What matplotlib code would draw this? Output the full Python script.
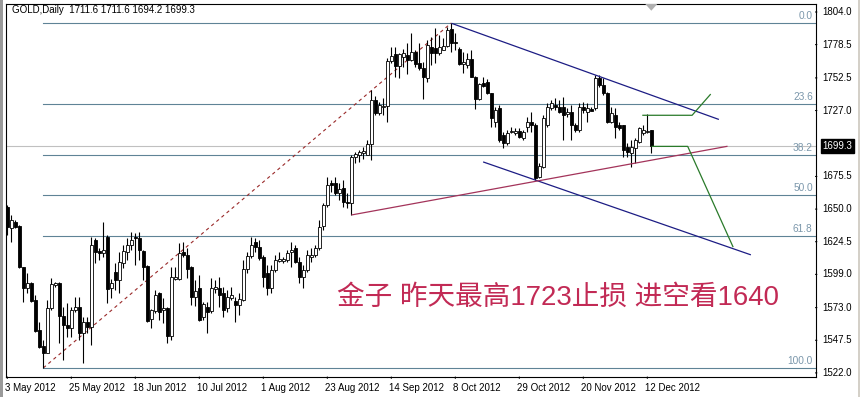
import matplotlib
matplotlib.use("Agg")
import matplotlib.pyplot as plt
from matplotlib.patches import Rectangle, Polygon

# ---------------- data ----------------
opens = [1651.9,1635.0,1640.2,1636.8,1604.5,1588.1,1592.5,1579.0,1555.6,1543.1,
         1537.3,1572.5,1590.5,1592.0,1566.5,1559.5,1556.9,1571.2,1573.3,1553.0,
         1562.1,1558.2,1625.9,1617.5,1615.5,1628.5,1588.1,1601.1,1594.6,1608.2,
         1616.8,1622.0,1628.5,1627.2,1617.5,1605.6,1563.9,1570.7,1584.2,1571.2,
         1572.5,1551.1,1595.4,1595.2,1616.8,1614.2,1604.5,1581.6,1588.6,1566.0,
         1573.8,1570.7,1587.3,1588.1,1584.2,1572.5,1580.3,1578.5,1575.1,1579.0,
         1603.0,1613.4,1624.6,1620.7,1612.3,1599.8,1588.1,1602.4,1609.5,1609.8,
         1610.2,1616.5,1619.4,1609.0,1597.2,1602.4,1612.9,1614.2,1619.4,1637.0,
         1653.2,1670.1,1670.1,1662.8,1666.2,1655.8,1654.5,1691.0,1692.3,1693.6,
         1692.3,1700.9,1735.3,1724.8,1730.0,1730.6,1766.0,1771.2,1761.8,1769.1,
         1770.4,1766.5,1773.0,1763.9,1760.0,1752.2,1776.9,1775.6,1771.7,1774.3,
         1777.4,1790.5,1780.8,1774.8,1763.4,1762.6,1767.0,1753.5,1735.8,1748.3,
         1749.6,1740.5,1718.3,1728.7,1707.9,1701.4,1710.5,1709.7,1711.3,1705.3,
         1714.4,1718.4,1715.7,1675.4,1683.2,1715.7,1728.7,1731.3,1730.0,1730.0,
         1724.3,1726.1,1715.7,1711.8,1730.0,1726.1,1728.0,1728.7,1752.2,1747.0,
         1740.5,1718.3,1723.5,1715.7,1715.7,1698.8,1693.6,1697.5,1702.7,1709.2,
         1710.5,1711.6]
highs = [1653.2,1645.4,1641.5,1637.6,1605.0,1600.4,1593.3,1582.9,1562.1,1547.8,
         1579.0,1596.0,1593.3,1593.3,1573.8,1576.4,1573.8,1581.6,1581.6,1566.0,
         1566.0,1628.5,1627.2,1619.4,1639.7,1629.8,1595.2,1607.6,1616.8,1622.0,
         1627.2,1632.4,1631.1,1632.4,1618.1,1606.3,1571.7,1586.8,1585.5,1580.3,
         1573.8,1605.0,1605.0,1623.3,1624.6,1619.4,1605.6,1594.6,1598.5,1577.7,
         1577.7,1596.0,1594.6,1597.2,1589.4,1586.8,1589.4,1581.6,1584.2,1610.2,
         1616.8,1628.5,1627.2,1625.9,1614.2,1606.3,1606.3,1614.2,1616.8,1612.9,
         1618.1,1624.6,1622.0,1612.9,1606.3,1618.1,1619.4,1622.0,1641.5,1654.5,
         1675.4,1672.8,1675.4,1670.7,1672.8,1662.3,1692.3,1694.9,1696.2,1698.8,
         1704.0,1743.1,1738.4,1733.9,1736.5,1767.8,1776.9,1776.9,1772.2,1774.8,
         1779.5,1787.3,1774.3,1779.5,1765.2,1782.1,1784.7,1791.2,1786.0,1783.4,
         1792.5,1795.4,1787.3,1776.9,1773.0,1771.7,1774.3,1754.0,1748.3,1753.0,
         1751.4,1741.0,1730.0,1731.0,1710.5,1711.8,1714.4,1713.1,1713.1,1711.8,
         1722.2,1726.1,1717.0,1685.8,1723.5,1732.6,1735.3,1736.6,1735.3,1737.9,
         1728.7,1731.3,1717.0,1732.6,1734.0,1732.6,1730.0,1754.8,1754.8,1752.2,
         1741.8,1730.0,1728.7,1718.3,1715.7,1701.4,1704.0,1705.3,1714.4,1715.7,
         1724.0,1711.6]
lows = [1629.8,1624.6,1635.0,1603.7,1577.7,1584.2,1577.7,1554.3,1541.2,1525.9,
        1537.3,1571.2,1589.4,1545.2,1532.1,1550.4,1550.4,1569.9,1547.8,1530.0,
        1553.0,1543.8,1607.6,1610.2,1612.9,1576.9,1580.3,1586.8,1584.2,1603.7,
        1610.2,1618.1,1606.3,1610.2,1594.6,1562.1,1556.9,1568.6,1563.4,1560.8,
        1545.7,1547.8,1594.6,1594.6,1612.9,1596.0,1575.1,1574.3,1562.9,1563.4,
        1553.0,1569.1,1584.7,1573.8,1566.0,1569.9,1579.0,1562.1,1567.3,1578.5,
        1599.8,1611.6,1616.8,1610.2,1589.4,1582.9,1584.2,1601.1,1609.0,1607.6,
        1609.0,1605.0,1607.6,1592.0,1588.1,1601.1,1609.0,1612.9,1618.1,1634.0,
        1651.9,1663.6,1661.0,1657.1,1651.9,1650.6,1645.4,1685.8,1687.1,1688.9,
        1692.3,1688.4,1723.5,1723.5,1723.5,1718.3,1763.9,1753.5,1752.2,1761.3,
        1755.6,1766.0,1761.3,1758.7,1735.8,1749.6,1762.6,1763.9,1770.4,1774.3,
        1776.9,1773.0,1774.3,1762.6,1756.1,1760.0,1753.0,1728.0,1735.3,1745.1,
        1740.0,1714.4,1714.4,1702.7,1697.5,1700.1,1709.2,1707.9,1705.3,1704.0,
        1710.5,1710.0,1672.8,1674.1,1681.9,1714.4,1727.4,1727.4,1724.8,1704.0,
        1722.2,1704.0,1710.5,1710.5,1724.8,1718.3,1727.4,1727.4,1745.7,1739.2,
        1717.0,1717.0,1705.3,1711.8,1691.0,1691.0,1683.2,1685.8,1701.4,1707.9,
        1709.2,1694.2]
closes = [1636.3,1641.5,1636.3,1604.5,1588.1,1592.0,1578.5,1555.0,1542.5,1537.9,
          1572.5,1591.2,1592.0,1566.5,1559.5,1556.9,1571.2,1573.8,1553.0,1562.1,
          1558.2,1622.0,1616.8,1615.5,1618.1,1587.3,1592.0,1594.6,1609.0,1617.5,
          1622.0,1625.9,1627.2,1618.1,1604.5,1562.9,1571.2,1582.9,1569.9,1572.5,
          1551.1,1596.7,1597.2,1616.0,1614.2,1603.0,1581.6,1586.0,1563.4,1575.9,
          1569.9,1588.1,1589.4,1582.9,1571.2,1581.6,1582.9,1575.1,1579.5,1603.0,
          1613.4,1622.0,1620.7,1611.6,1597.2,1588.1,1602.4,1610.2,1610.8,1610.8,
          1616.0,1618.1,1609.0,1597.2,1602.4,1614.2,1614.2,1619.4,1636.3,1653.0,
          1668.8,1668.8,1662.3,1665.5,1655.8,1654.5,1691.0,1693.1,1694.9,1695.6,
          1700.9,1735.3,1724.8,1731.3,1730.6,1766.0,1769.6,1761.8,1771.2,1771.7,
          1766.5,1773.0,1763.4,1760.0,1753.5,1778.2,1771.7,1771.7,1776.9,1777.4,
          1789.9,1780.0,1779.5,1763.4,1765.2,1767.0,1753.0,1735.8,1747.8,1746.2,
          1740.5,1720.9,1727.4,1704.0,1701.4,1709.2,1711.3,1711.3,1706.1,1710.5,
          1718.4,1716.0,1674.1,1683.7,1720.9,1730.0,1732.6,1730.0,1726.1,1723.5,
          1726.1,1715.7,1711.8,1730.0,1727.4,1728.7,1727.0,1752.2,1747.0,1740.5,
          1718.3,1724.8,1714.4,1713.1,1696.2,1694.9,1698.8,1704.0,1713.1,1711.8,
          1711.3,1699.3]

date_labels = ["3 May 2012", "25 May 2012", "18 Jun 2012", "10 Jul 2012", "1 Aug 2012",
               "23 Aug 2012", "14 Sep 2012", "8 Oct 2012", "29 Oct 2012", "20 Nov 2012",
               "12 Dec 2012"]
date_label_bars = [0, 16, 32, 48, 64, 80, 96, 112, 128, 144, 160]
price_ticks = [1804.0, 1778.5, 1752.5, 1727.0, 1675.5, 1650.0, 1624.5, 1599.0, 1573.0, 1547.5, 1522.0]

fib_low = 1525.9      # bar 9
fib_high = 1795.4     # bar 111
fib_low_bar = 9
fib_high_bar = 111
fib_levels = [0.0, 23.6, 38.2, 50.0, 61.8, 100.0]

title_text = "GOLD,Daily  1711.6 1711.6 1694.2 1699.3"
last_price = 1699.3
note_text = "金子 昨天最高1723止损 进空看1640"

# trendlines (bar index, price)
upper_channel = ([111.2, 177.75], [1795.0, 1720.2])
lower_channel = ([119.1, 185.75], [1686.7, 1614.4])
support_line = ([86.2, 179.9], [1645.5, 1699.0])
green_up = ([158.9, 171.2, 175.75], [1723.3, 1723.3, 1739.5])
green_down = ([161.2, 170.1, 181.4], [1699.0, 1699.0, 1620.7])

# ---------------- figure ----------------
W, H = 860, 397
fig = plt.figure(figsize=(W / 100, H / 100), dpi=100)
fig.patch.set_facecolor("white")
ax = fig.add_axes([6 / W, 20 / H, (815.5 - 6) / W, (377 - 4) / H])
ax.set_xlim(-0.325, 202.05)
ax.set_ylim(1518.8, 1810.25)
for s in ax.spines.values():
    s.set_color("black")
    s.set_linewidth(0.8)
ax.set_xticks([])
ax.set_yticks([])

small_font = dict(family="Liberation Sans", fontsize=7)

# current price grey line
ax.axhline(last_price, color="#c0c0c0", lw=0.8, zorder=1)

# fibonacci levels
fib_col = "#5f8396"
for lv in fib_levels:
    p = fib_high - (fib_high - fib_low) * lv / 100.0
    ax.plot([fib_low_bar, 202.05], [p, p], color=fib_col, lw=0.8, zorder=1)
    ax.annotate(f"{lv:.1f}", xy=(1.0, p), xycoords=("axes fraction", "data"),
                xytext=(-2, 1.5), textcoords="offset points", ha="right", va="bottom",
                color="#7b97ab", family="Liberation Sans", fontsize=7.3)

# dashed fib trend line
ax.plot([fib_low_bar, fib_high_bar], [fib_low, fib_high], color="#9a2a2a", lw=0.8,
        dashes=(3, 3), zorder=2)

# candles
x = list(range(len(opens)))
ax.vlines(x, lows, highs, color="black", lw=0.8, zorder=3)
for i, (o, c) in enumerate(zip(opens, closes)):
    bottom = min(o, c)
    hgt = max(abs(c - o), 0.35)
    fc = "white" if c >= o else "black"
    ax.add_patch(Rectangle((i - 0.36, bottom), 0.72, hgt, facecolor=fc,
                           edgecolor="black", lw=0.6, zorder=4))

# trend lines
ax.plot(*upper_channel, color="#1c1c84", lw=0.9, zorder=5)
ax.plot(*lower_channel, color="#1c1c84", lw=0.9, zorder=5)
ax.plot(*support_line, color="#a3335a", lw=0.9, zorder=5)
ax.plot(*green_up, color="#2a7a2a", lw=0.9, zorder=5)
ax.plot(*green_down, color="#2a7a2a", lw=0.9, zorder=5)

# chart shift marker
ax.add_patch(Polygon([[159.5, 1810.25], [162.5, 1810.25], [161, 1805.0]], closed=True,
                     facecolor="#b0b0b0", edgecolor="none", zorder=6))

# right price axis
for p in price_ticks:
    ax.annotate("", xy=(1.0, p), xycoords=("axes fraction", "data"),
                xytext=(3, 0), textcoords="offset points",
                arrowprops=dict(arrowstyle="-", color="black", lw=0.8))
    ax.annotate(f"{p:.1f}", xy=(1.0, p), xycoords=("axes fraction", "data"),
                xytext=(5, 0), textcoords="offset points", ha="left", va="center",
                color="black", annotation_clip=False, **small_font)
ax.annotate(f"{last_price:.1f}", xy=(1.0, last_price), xycoords=("axes fraction", "data"),
            xytext=(5, 0), textcoords="offset points", ha="left", va="center",
            color="white", annotation_clip=False,
            bbox=dict(boxstyle="square,pad=0.2", facecolor="black", edgecolor="black"),
            **small_font)

# date axis
for b, lab in zip(date_label_bars, date_labels):
    ax.annotate("", xy=(b, 0.0), xycoords=("data", "axes fraction"),
                xytext=(0, -3), textcoords="offset points",
                arrowprops=dict(arrowstyle="-", color="black", lw=0.8))
    ax.annotate(lab, xy=(b, 0.0), xycoords=("data", "axes fraction"),
                xytext=(-1.5, -8), textcoords="offset points", ha="left", va="center",
                color="black", annotation_clip=False, **small_font)

# title
fig.text(12 / W, 1 - 10 / H, title_text, ha="left", va="center", color="black", **small_font)

# note text
fig.text(337 / W, 1 - 298 / H, note_text, ha="left", va="center", color="#c22a55",
         fontsize=19.9, family=["Liberation Sans", "Noto Sans CJK SC"])

# window border
fig.patches.append(Rectangle((0, 0), 2.5 / W, 1, transform=fig.transFigure,
                             facecolor="#9a9a9a", edgecolor="none"))
fig.patches.append(Rectangle((857.5 / W, 0), 2.5 / W, 1, transform=fig.transFigure,
                             facecolor="#d4d0c8", edgecolor="none"))

fig.savefig("out.png", dpi=100, facecolor="white")
